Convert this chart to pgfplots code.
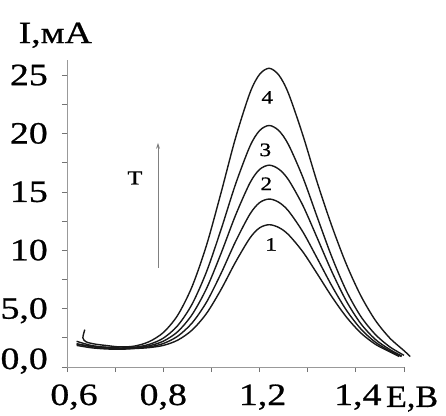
\documentclass[border=0pt]{standalone}
\usepackage{fontspec}
\setmainfont{Liberation Serif}[FakeStretch=1.22, FakeBold=0.8]
\usepackage{pgfplots}
\pgfplotsset{compat=1.18}
\usetikzlibrary{arrows.meta}

\newcommand\bigf{\fontsize{31}{36}\selectfont}
\newcommand\smallf{\fontsize{19}{22}\selectfont}

\begin{document}
\begin{tikzpicture}
\begin{axis}[
    scale only axis, width=337pt, height=307pt,
    xmin=0.8, xmax=1.5, ymin=0, ymax=26.3,
    axis lines=left,
    axis line style={-, draw=gray!80, line width=0.8pt},
    tick style={draw=gray!90!black, line width=0.8pt},
    tick align=outside, major tick length=5pt,
    xtick={0.8,0.9,1.0,1.1,1.2,1.3,1.4,1.5},
    xticklabels={{\hspace*{14pt}0,6},,{0,8},,{\hspace*{6pt}1,2},,{\hspace*{4pt}1,4},},
    ytick={0,2.5,5,7.5,10,12.5,15,17.5,20,22.5,25},
    yticklabels={{\raisebox{8pt}{0,0}},,{5,0},,10,,15,,20,,25},
    /pgf/number format/assume math mode=true,
    xticklabel style={font=\bigf, anchor=base, inner sep=0pt, yshift=-33pt},
    yticklabel style={font=\bigf, anchor=base east, inner sep=0pt, xshift=-14pt, yshift=-10pt},
    clip=false,
    crv/.style={smooth, black!90, line width=1.4pt, no markers},
]

% curve 1
\addplot[crv] coordinates {
(0.82,1.85)(0.85,1.65)(0.88,1.55)(0.91,1.52)(0.94,1.58)(0.97,1.66)(1.00,1.85)(1.03,2.30)(1.06,3.17)(1.09,4.60)(1.12,6.64)(1.15,8.98)(1.18,11.05)(1.20,11.92)(1.22,12.19)(1.24,11.95)(1.26,11.34)(1.29,9.86)(1.32,7.97)(1.35,6.03)(1.38,4.30)(1.41,2.93)(1.44,1.96)(1.47,1.31)(1.49,0.90)
};
% curve 2
\addplot[crv] coordinates {
(0.82,2.00)(0.85,1.75)(0.88,1.62)(0.91,1.57)(0.94,1.61)(0.97,1.72)(1.00,2.01)(1.03,2.64)(1.06,3.78)(1.09,5.57)(1.12,8.02)(1.15,10.74)(1.18,13.10)(1.20,14.08)(1.22,14.39)(1.24,14.11)(1.26,13.37)(1.29,11.57)(1.32,9.29)(1.35,6.96)(1.38,4.89)(1.41,3.28)(1.44,2.14)(1.47,1.39)(1.495,0.90)
};
% curve 3
\addplot[crv] coordinates {
(0.82,2.20)(0.85,1.85)(0.88,1.68)(0.91,1.60)(0.94,1.64)(0.97,1.81)(1.00,2.21)(1.03,3.03)(1.06,4.50)(1.09,6.74)(1.12,9.73)(1.15,12.99)(1.18,15.77)(1.20,16.92)(1.22,17.29)(1.24,16.95)(1.26,16.04)(1.29,13.83)(1.32,11.03)(1.35,8.18)(1.38,5.67)(1.41,3.73)(1.44,2.38)(1.47,1.51)(1.495,0.95)
};
% curve 4
\addplot[crv] coordinates {
(0.82,1.95)(0.85,1.78)(0.88,1.70)(0.91,1.63)(0.94,1.69)(0.97,1.93)(1.00,2.47)(1.03,3.55)(1.06,5.40)(1.09,8.18)(1.12,11.78)(1.15,15.65)(1.18,18.91)(1.20,20.25)(1.22,20.69)(1.24,20.25)(1.26,19.05)(1.29,16.24)(1.32,12.81)(1.35,9.44)(1.38,6.55)(1.41,4.35)(1.44,2.81)(1.47,1.74)(1.50,1.00)
};
% curve 5
\addplot[crv] coordinates {
(0.837,3.2)(0.833,2.5)(0.84,2.15)(0.86,1.95)(0.88,1.85)(0.91,1.72)(0.94,1.79)(0.97,2.16)(1.00,2.95)(1.03,4.44)(1.06,6.91)(1.09,10.46)(1.12,14.93)(1.15,19.61)(1.18,23.48)(1.20,25.07)(1.22,25.59)(1.24,25.01)(1.26,23.44)(1.29,19.85)(1.32,15.78)(1.35,12.09)(1.38,8.83)(1.41,6.13)(1.44,4.03)(1.47,2.50)(1.50,1.40)(1.513,0.90)
};

\node[font=\smallf] at (axis cs:1.216,23.1) {4};
\node[font=\smallf] at (axis cs:1.212,18.6) {3};
\node[font=\smallf] at (axis cs:1.214,15.7) {2};
\node[font=\smallf] at (axis cs:1.224,10.5) {1};
\node[font=\fontsize{20}{24}\selectfont] at (axis cs:0.941,16.2) {T};
\draw[-{Stealth[length=6pt,width=4pt]}, gray, line width=0.8pt] (axis cs:0.989,8.5) -- (axis cs:0.989,19.2);

\node[anchor=base, font=\bigf, xscale=0.9] at (rel axis cs:1.024,-0.130) {Е,В};
\node[anchor=base west, font=\bigf] at (rel axis cs:-0.154,1.055) {I,мА};
\end{axis}
\pgfresetboundingbox
\path[use as bounding box] (-67pt,-48pt) rectangle (379pt,367pt);
\end{tikzpicture}
\end{document}
